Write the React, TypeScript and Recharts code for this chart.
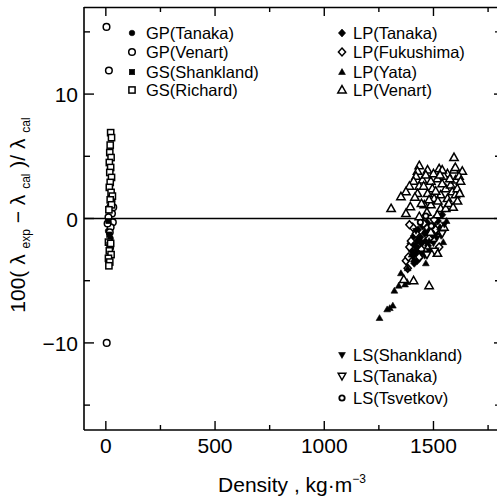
import React from "react"
import { ScatterChart, Scatter, XAxis, YAxis, ReferenceLine } from "recharts"

const FONT = '"Liberation Sans", Arial, Helvetica, sans-serif'

// [density kg/m3, 100(λexp-λcal)/λcal]
const gpTanaka = [[14, 0.2], [18, -0.5], [10, -1.0], [22, -1.6], [16, -2.1]]
const gpVenart = [
  [3, 15.4], [14, 11.9], [4, -10.0], [20, 0.9], [28, 0.4], [12, 0.1], [32, -0.3],
  [22, -0.7], [8, -0.4], [26, 1.5], [18, -1.1], [34, 0.9],
]
const gsShankland = [[12, -0.2], [16, -1.3], [20, -2.4]]
const gsRichard = [
  [22, 6.9], [26, 6.5], [20, 5.9], [18, 5.3], [24, 4.9], [16, 4.5], [22, 4.1], [18, 3.7],
  [26, 3.3], [20, 2.9], [16, 2.5], [24, 2.1], [30, 1.8], [20, 1.5], [26, 1.1], [14, 0.7],
  [12, -1.9], [20, -2.2], [16, -2.6], [24, -2.9], [12, -3.2], [18, -3.5], [14, -3.8], [22, -2.0],
]
const lpTanaka = [
  [1395, -2.0], [1400, -2.6], [1405, -3.0], [1410, -1.4], [1415, -2.2], [1420, -2.8], [1425, -1.8],
  [1430, -0.9], [1430, -2.4], [1435, -3.2], [1440, -1.5], [1445, -2.0], [1450, -0.6], [1455, -2.6],
  [1460, -1.2], [1465, -1.8], [1470, -0.3], [1475, -2.2], [1480, -1.0], [1490, -1.5], [1500, -0.5],
  [1510, -1.2], [1520, -0.2], [1530, -0.8], [1540, 0.3], [1412, -3.6], [1425, -3.4],
]
const lpFukushima = [
  [1374, -3.4], [1382, -4.0], [1385, -3.1], [1390, -2.3], [1397, -1.8], [1405, -0.7], [1390, -0.5],
  [1435, -3.1], [1480, -1.6], [1503, -0.1], [1510, -0.9], [1526, -2.3], [1420, -1.2], [1455, -0.4],
  [1445, -2.5],
]
const lpYata = [
  [1253, -8.0], [1288, -7.3], [1300, -7.2], [1314, -7.0], [1321, -5.8], [1341, -5.4], [1351, -4.4],
  [1379, -5.1], [1370, -5.3], [1382, -4.0], [1465, -3.6], [1400, -2.9], [1420, -2.4], [1440, -1.7],
  [1460, -1.0], [1480, -1.8], [1500, -1.2], [1530, -0.7], [1560, -0.2], [1545, -1.9], [1410, -3.3],
]
const lpVenart = [
  [1594, 4.9], [1435, 4.25], [1473, 3.9], [1526, 4.0], [1427, 3.8], [1420, 3.4], [1450, 3.1],
  [1409, 3.0], [1390, 2.6], [1435, 2.6], [1374, 2.15], [1351, 1.75], [1427, 2.0], [1415, 1.7],
  [1306, 0.8], [1394, 0.95], [1374, 0.4], [1458, 1.1], [1435, 0.15], [1594, 3.9], [1632, 3.8],
  [1564, 3.6], [1548, 3.4], [1518, 3.2], [1488, 3.0], [1495, 2.4], [1473, 2.0], [1503, 1.6],
  [1488, 1.1], [1533, 1.9], [1556, 2.4], [1579, 2.7], [1601, 3.1], [1617, 3.4], [1586, 2.15],
  [1564, 1.6], [1533, 0.8], [1518, 0.3], [1556, 0.8], [1601, 1.9], [1609, 2.4], [1624, 3.0],
  [1518, -2.8], [1473, -2.4], [1480, -5.4], [1409, -5.0], [1364, -4.9], [1488, -1.1], [1548, -0.7],
  [1465, 3.5], [1540, 2.8], [1510, 2.2], [1480, 1.5], [1570, 1.2], [1590, 0.9], [1610, 1.4],
  [1620, 2.0], [1500, 3.6], [1540, 3.9], [1575, 3.2], [1455, 2.6], [1445, 1.2], [1520, 1.4],
  [1600, 4.1], [1470, 0.5], [1530, 3.5],
]
const lsShankland = [[1420, -1.0], [1445, -2.8], [1460, -3.0], [1480, -2.6], [1500, -2.0], [1515, -1.6], [1535, -1.4], [1550, -0.5]]
const lsTanaka = [[1470, -2.9], [1505, -2.6], [1540, -1.2]]
const lsTsvetkov = [[1440, -0.3], [1465, 0.2], [1490, -0.6]]

const X_DOMAIN = [-100, 1800]
const Y_DOMAIN = [-17, 17]
const X_TICKS = [0, 250, 500, 750, 1000, 1250, 1500, 1750]
const X_LABELS = [0, 500, 1000, 1500]
const Y_TICKS = [-15, -10, -5, 0, 5, 10, 15]
const Y_LABELS = [-10, 0, 10]

type Kind = "dot" | "ring" | "sqFill" | "sq" | "diaFill" | "dia" | "triFill" | "tri" | "downFill" | "down" | "ringSmall"

const SERIES: { name: string; kind: Kind; data: number[][] }[] = [
  { name: "GP(Tanaka)", kind: "dot", data: gpTanaka },
  { name: "GP(Venart)", kind: "ring", data: gpVenart },
  { name: "GS(Shankland)", kind: "sqFill", data: gsShankland },
  { name: "GS(Richard)", kind: "sq", data: gsRichard },
  { name: "LP(Tanaka)", kind: "diaFill", data: lpTanaka },
  { name: "LP(Fukushima)", kind: "dia", data: lpFukushima },
  { name: "LP(Yata)", kind: "triFill", data: lpYata },
  { name: "LP(Venart)", kind: "tri", data: lpVenart },
  { name: "LS(Shankland)", kind: "downFill", data: lsShankland },
  { name: "LS(Tanaka)", kind: "down", data: lsTanaka },
  { name: "LS(Tsvetkov)", kind: "ringSmall", data: lsTsvetkov },
]

// chart box: 500 wide, margins below -> plot area 84..499 x 7..430
const W = 500
const H = 497
const MARGIN = { top: 7, right: 1, bottom: 0, left: 0 }
const Y_AXIS_W = 84
const X_AXIS_H = 67
const PLOT = { left: MARGIN.left + Y_AXIS_W, right: W - MARGIN.right, top: MARGIN.top, bottom: H - X_AXIS_H }
const px = (v: number) => PLOT.left + ((v - X_DOMAIN[0]) / (X_DOMAIN[1] - X_DOMAIN[0])) * (PLOT.right - PLOT.left)
const py = (v: number) => PLOT.bottom - ((v - Y_DOMAIN[0]) / (Y_DOMAIN[1] - Y_DOMAIN[0])) * (PLOT.bottom - PLOT.top)

function Marker({ kind, cx, cy }: { kind: Kind; cx: number; cy: number }) {
  const open = { fill: "#fff", stroke: "#000", strokeWidth: 1.5 }
  const solid = { fill: "#000", stroke: "#000", strokeWidth: 0.6 }
  switch (kind) {
    case "dot": return <circle cx={cx} cy={cy} r={2.8} {...solid} />
    case "ring": return <circle cx={cx} cy={cy} r={3.3} {...open} />
    case "ringSmall": return <circle cx={cx} cy={cy} r={2.7} {...open} strokeWidth={1.8} />
    case "sqFill": return <rect x={cx - 2.7} y={cy - 2.7} width={5.4} height={5.4} {...solid} />
    case "sq": return <rect x={cx - 3.1} y={cy - 3.1} width={6.2} height={6.2} {...open} />
    case "diaFill": return <polygon points={`${cx},${cy - 4} ${cx + 3.6},${cy} ${cx},${cy + 4} ${cx - 3.6},${cy}`} {...solid} />
    case "dia": return <polygon points={`${cx},${cy - 4} ${cx + 3.6},${cy} ${cx},${cy + 4} ${cx - 3.6},${cy}`} {...open} />
    case "triFill": return <polygon points={`${cx},${cy - 3.4} ${cx + 3.4},${cy + 2.5} ${cx - 3.4},${cy + 2.5}`} {...solid} />
    case "tri": return <polygon points={`${cx},${cy - 4.4} ${cx + 4.2},${cy + 3} ${cx - 4.2},${cy + 3}`} {...open} />
    case "downFill": return <polygon points={`${cx},${cy + 3.4} ${cx + 3.4},${cy - 2.5} ${cx - 3.4},${cy - 2.5}`} {...solid} />
    case "down": return <polygon points={`${cx},${cy + 4} ${cx + 3.8},${cy - 2.7} ${cx - 3.8},${cy - 2.7}`} {...open} />
  }
  return null
}

const minus = (v: number) => (v < 0 ? `\u2212${Math.abs(v)}` : `${v}`)

const BottomTick = (p: any) => {
  const v = p.payload.value
  const major = X_LABELS.includes(v)
  return (
    <g>
      <line x1={p.x} x2={p.x} y1={p.y} y2={p.y - (major ? 9 : 5)} stroke="#000" strokeWidth={1.4} />
      {major && (
        <text x={p.x} y={p.y + 23} textAnchor="middle" fontSize={21} fontFamily={FONT} fill="#000">{v}</text>
      )}
    </g>
  )
}

const LeftTick = (p: any) => {
  const v = p.payload.value
  const major = Y_LABELS.includes(v)
  return (
    <g>
      <line x1={p.x} x2={p.x + (major ? 10 : 6)} y1={p.y} y2={p.y} stroke="#000" strokeWidth={1.4} />
      {major && (
        <text x={p.x - 6} y={p.y + 8} textAnchor="end" fontSize={21} fontFamily={FONT} fill="#000">{minus(v)}</text>
      )}
    </g>
  )
}

const LEGEND_LEFT = ["GP(Tanaka)", "GP(Venart)", "GS(Shankland)", "GS(Richard)"]
const LEGEND_RIGHT = ["LP(Tanaka)", "LP(Fukushima)", "LP(Yata)", "LP(Venart)"]
const LEGEND_BOTTOM = ["LS(Shankland)", "LS(Tanaka)", "LS(Tsvetkov)"]

function LegendBlock({ names, mx, tx, ys }: { names: string[]; mx: number; tx: number; ys: number[] }) {
  return (
    <g>
      {names.map((n, i) => {
        const s = SERIES.find((d) => d.name === n)!
        return (
          <g key={n}>
            <Marker kind={s.kind} cx={mx} cy={ys[i]} />
            <text x={tx} y={ys[i] + 6} fontSize={16.5} fontFamily={FONT} fill="#000">{n}</text>
          </g>
        )
      })}
    </g>
  )
}

const axisLine = { stroke: "#000", strokeWidth: 1.6 }

export default function App() {
  return (
    <div style={{ position: "absolute", left: 0, top: 0, width: 497, height: 497, overflow: "hidden", background: "#fff" }}>
      <ScatterChart width={W} height={H} margin={MARGIN}>
        <XAxis type="number" dataKey="x" domain={X_DOMAIN} ticks={X_TICKS} interval={0} allowDataOverflow
          height={X_AXIS_H} tickSize={0} tickMargin={0} tickLine={false} axisLine={axisLine} tick={BottomTick} />
        <YAxis type="number" dataKey="y" domain={Y_DOMAIN} ticks={Y_TICKS} interval={0} allowDataOverflow
          width={Y_AXIS_W} tickSize={0} tickMargin={0} tickLine={false} axisLine={axisLine} tick={LeftTick} />
        <ReferenceLine y={0} stroke="#000" strokeWidth={1.6} />
        {SERIES.map((s) => (
          <Scatter
            key={s.name}
            name={s.name}
            data={s.data.map(([x, y]) => ({ x, y }))}
            isAnimationActive={false}
            shape={(p: any) => <Marker kind={s.kind} cx={p.cx} cy={p.cy} />}
          />
        ))}
      </ScatterChart>
      <svg width={497} height={497} style={{ position: "absolute", left: 0, top: 0, pointerEvents: "none" }}>
        {/* top and right frame with inward ticks */}
        <line x1={PLOT.left} x2={PLOT.right} y1={PLOT.top + 0.5} y2={PLOT.top + 0.5} stroke="#000" strokeWidth={1.6} />
        <line x1={PLOT.right} x2={PLOT.right} y1={PLOT.top} y2={PLOT.bottom} stroke="#000" strokeWidth={1.6} />
        {X_TICKS.map((t) => (
          <line key={`tt${t}`} x1={px(t)} x2={px(t)} y1={PLOT.top} y2={PLOT.top + (X_LABELS.includes(t) ? 9 : 5)} stroke="#000" strokeWidth={1.4} />
        ))}
        {Y_TICKS.map((t) => (
          <line key={`rt${t}`} x1={PLOT.right} x2={PLOT.right - (Y_LABELS.includes(t) ? 5 : 4)} y1={py(t)} y2={py(t)} stroke="#000" strokeWidth={1.4} />
        ))}
        <LegendBlock names={LEGEND_LEFT} mx={132} tx={146} ys={[33, 52, 72, 90]} />
        <LegendBlock names={LEGEND_RIGHT} mx={342} tx={353} ys={[33, 52, 72, 90]} />
        <LegendBlock names={LEGEND_BOTTOM} mx={342} tx={353} ys={[355, 376, 398]} />
        <text x={292} y={492} textAnchor="middle" fontSize={21} fontFamily={FONT} fill="#000">
          {"Density , kg\u00B7m"}
          <tspan fontSize={12} dy={-9}>{"\u22123"}</tspan>
        </text>
        <text transform="translate(25,215) rotate(-90)" textAnchor="middle" fontSize={21} fontFamily={FONT} fill="#000">
          {"100(\u00A0\u03BB\u00A0"}
          <tspan fontSize={12} dy={5}>exp</tspan>
          <tspan dy={-5}>{"\u00A0\u2212\u00A0\u03BB\u00A0"}</tspan>
          <tspan fontSize={12} dy={5}>cal</tspan>
          <tspan dy={-5}>{"\u00A0)/\u00A0\u03BB\u00A0"}</tspan>
          <tspan fontSize={12} dy={5}>cal</tspan>
        </text>
      </svg>
    </div>
  )
}
